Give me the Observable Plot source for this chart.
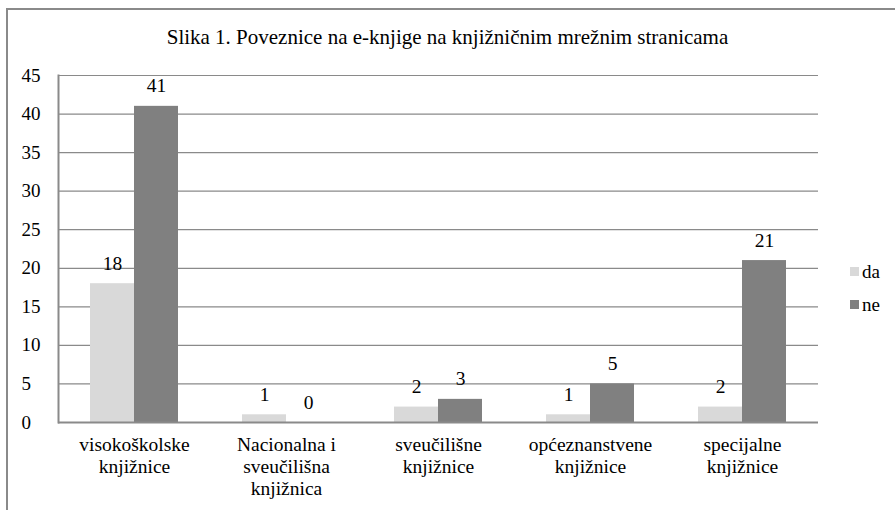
<!DOCTYPE html>
<html>
<head>
<meta charset="utf-8">
<script src="https://cdn.jsdelivr.net/npm/d3@7"></script>
<script src="https://cdn.jsdelivr.net/npm/@observablehq/plot@0.6"></script>
<style>
  html, body { margin: 0; padding: 0; background: #fff; overflow: hidden; width: 895px; height: 510px; }
  #wrap { position: relative; width: 895px; height: 510px; overflow: hidden; font-family: 'Liberation Serif'; }
  #frame { position: absolute; left: 6px; top: 8px; width: 1000px; height: 1000px; border: 2px solid #8a8a8a; box-sizing: border-box; }
  #title { position: absolute; left: 0; top: 25px; width: 895px; text-align: center; font-size: 21px; color: #000; font-family: 'Liberation Serif'; }
  #chart { position: absolute; left: 0; top: 0; }
  #chart svg, #chart svg text { font-family: 'Liberation Serif' !important; }
  #legend { position: absolute; left: 850px; top: 255px; font-size: 19px; color: #000; font-family: 'Liberation Serif'; }
  .item { display: flex; align-items: center; height: 33px; }
  .sw { width: 9px; height: 9px; margin-right: 3px; }
</style>
</head>
<body>
<div id="wrap">
  <div id="frame"></div>
  <div id="chart"></div>
  <div id="title"></div>
  <div id="legend"></div>
</div>
<script>
const titleText = "Slika 1. Poveznice na e-knjige na knjižničnim mrežnim stranicama";
const categories = [
  "visokoškolske\nknjižnice",
  "Nacionalna i\nsveučilišna\nknjižnica",
  "sveučilišne\nknjižnice",
  "općeznanstvene\nknjižnice",
  "specijalne\nknjižnice"
];
const series = ["da", "ne"];
const daValues = [18, 1, 2, 1, 2];
const neValues = [41, 0, 3, 5, 21];
const yTicks = [0, 5, 10, 15, 20, 25, 30, 35, 40, 45];
const colors = ["#d9d9d9", "#808080"];

const rows = [];
categories.forEach((c, i) => {
  rows.push({cat: c, series: "da", value: daValues[i]});
  rows.push({cat: c, series: "ne", value: neValues[i]});
});

const chart = Plot.plot({
  width: 895,
  height: 510,
  marginLeft: 57,
  marginRight: 77,
  marginTop: 75,
  marginBottom: 88,
  style: "font-family: 'Liberation Serif'; font-size: 19px; color: #000; background: transparent; overflow: visible;",
  fx: {domain: categories, padding: 0, label: null},
  x: {domain: series, paddingInner: 0, paddingOuter: 0.727, axis: null},
  y: {domain: [0, 45], label: null},
  color: {domain: series, range: colors},
  marks: [
    Plot.ruleY(yTicks.slice(1), {stroke: "#8a8a8a", strokeWidth: 1.2}),
    Plot.barY(rows, {fx: "cat", x: "series", y: "value", fill: "series"}),
    Plot.text(rows, {fx: "cat", x: "series", y: "value", text: d => String(d.value), lineAnchor: "bottom", dy: -14, fill: "#000", fontSize: 19.5}),
    Plot.ruleY([0], {stroke: "#8a8a8a", strokeWidth: 2}),
    Plot.frame({anchor: "left", facetAnchor: "left", stroke: "#8a8a8a", strokeWidth: 2}),
    Plot.axisY({ticks: yTicks, tickSize: 0, tickPadding: 37, textAnchor: "start", label: null, fontSize: 19}),
    Plot.axisFx({anchor: "bottom", tickSize: 0, tickPadding: 13, label: null, lineHeight: 1.12, fontSize: 19.5})
  ]
});
document.getElementById("chart").appendChild(chart);
document.getElementById("title").textContent = titleText;

const legend = document.getElementById("legend");
series.forEach((s, i) => {
  const item = document.createElement("div");
  item.className = "item";
  const sw = document.createElement("span");
  sw.className = "sw";
  sw.style.background = colors[i];
  const t = document.createElement("span");
  t.textContent = s;
  item.appendChild(sw);
  item.appendChild(t);
  legend.appendChild(item);
});
</script>
</body>
</html>
